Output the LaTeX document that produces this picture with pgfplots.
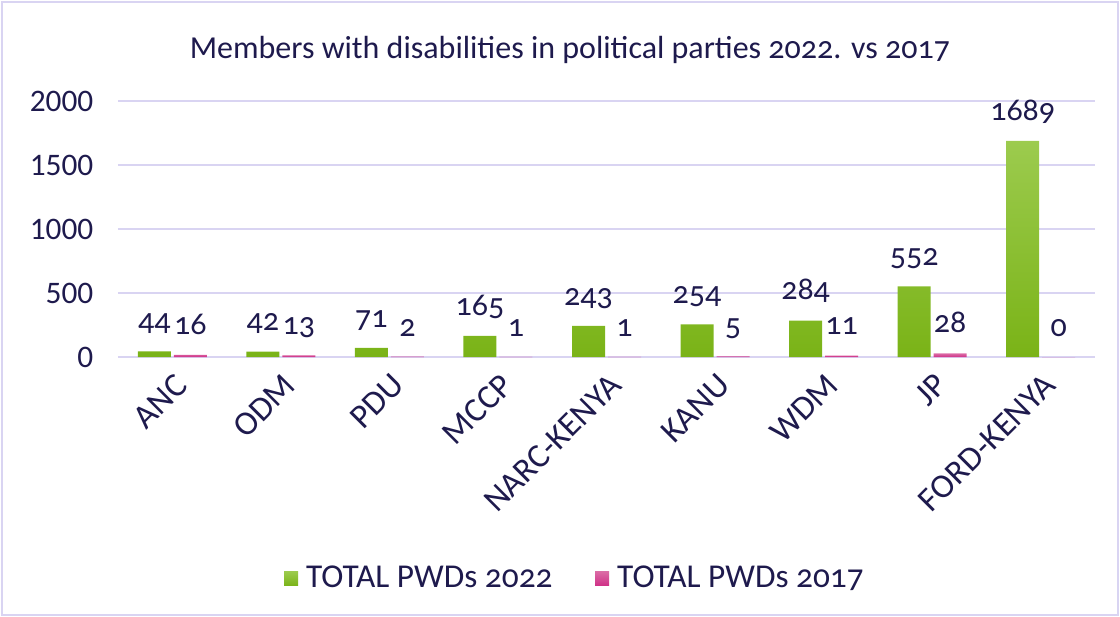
\documentclass[border=0pt]{standalone}
\usepackage{pgfplots}
\pgfplotsset{compat=1.18}
\usepackage{fontspec}
\setmainfont{Carlito}[Numbers=OldStyle]
\newfontfamily\liningfont{Carlito}[Numbers=Lining]
\definecolor{txt}{HTML}{1E1A4D}
\definecolor{gridc}{HTML}{D9D4F2}
\definecolor{gtop}{HTML}{9CCB4E}
\definecolor{gbot}{HTML}{7AB317}
\definecolor{ptop}{HTML}{DB6CA6}
\definecolor{pbot}{HTML}{CF2F86}
\pgfplotstableread{
x v22 v17
0 44 16
1 42 13
2 71 2
3 165 1
4 243 1
5 254 5
6 284 11
7 552 28
8 1689 0
}\datatable
\begin{document}
\begin{tikzpicture}[x=0.75pt,y=0.75pt]
\useasboundingbox (-118,-260) rectangle (1002,357);
\draw[gridc, line width=1.2pt] (-116,-258) rectangle (1000,355);
\node[txt, font=\fontsize{24}{28}\selectfont] at (452,307) {Members with disabilities in political parties 2022. vs 2017};
\begin{axis}[
  at={(0,0)}, anchor=south west,
  scale only axis, width=732.75pt, height=192pt,
  ymin=0, ymax=2000, xmin=-0.5, xmax=8.5,
  axis x line*=bottom, axis y line*=left,
  axis line style={draw=none},
  ytick={0,500,1000,1500,2000},
  ymajorgrids, xmajorgrids=false, grid style={draw=gridc, line width=1.2pt},
  major tick length=0pt,
  xtick style={draw=none}, ytick style={draw=none},
  xtick=data,
  xticklabels={ANC,ODM,PDU,MCCP,NARC-KENYA,KANU,WDM,JP,FORD-KENYA},
  x tick label style={rotate=45, anchor=north east, font=\fontsize{25.5}{28}\selectfont, text=txt, xshift=-4pt, yshift=-5pt},
  y tick label style={font=\liningfont\fontsize{23.5}{26}\selectfont, text=txt, xshift=-15pt},
  /pgf/number format/assume math mode=true,
  /pgf/number format/1000 sep={},
  ybar=2.25pt, bar width=24.75pt,
  nodes near coords,
  nodes near coords style={font=\fontsize{24}{26}\selectfont, text=txt, anchor=base, yshift=15.5pt},
  legend style={at={(0.468,-0.863)}, anchor=center, draw=none, fill=none,
    legend columns=2, font=\fontsize{25}{28}\selectfont, text=txt,
    /tikz/every even column/.append style={column sep=30pt},
    /tikz/every odd column/.append style={column sep=4pt}},
  legend image code/.code={\fill[#1] (0pt,-6pt) rectangle (10.5pt,5pt);},
]
\addplot[draw=none, top color=gtop, bottom color=gbot] table[x=x, y=v22] {\datatable};
\addplot[draw=none, top color=ptop, bottom color=pbot] table[x=x, y=v17] {\datatable};
\legend{TOTAL PWDs 2022, TOTAL PWDs 2017}
\end{axis}
\end{tikzpicture}
\end{document}
